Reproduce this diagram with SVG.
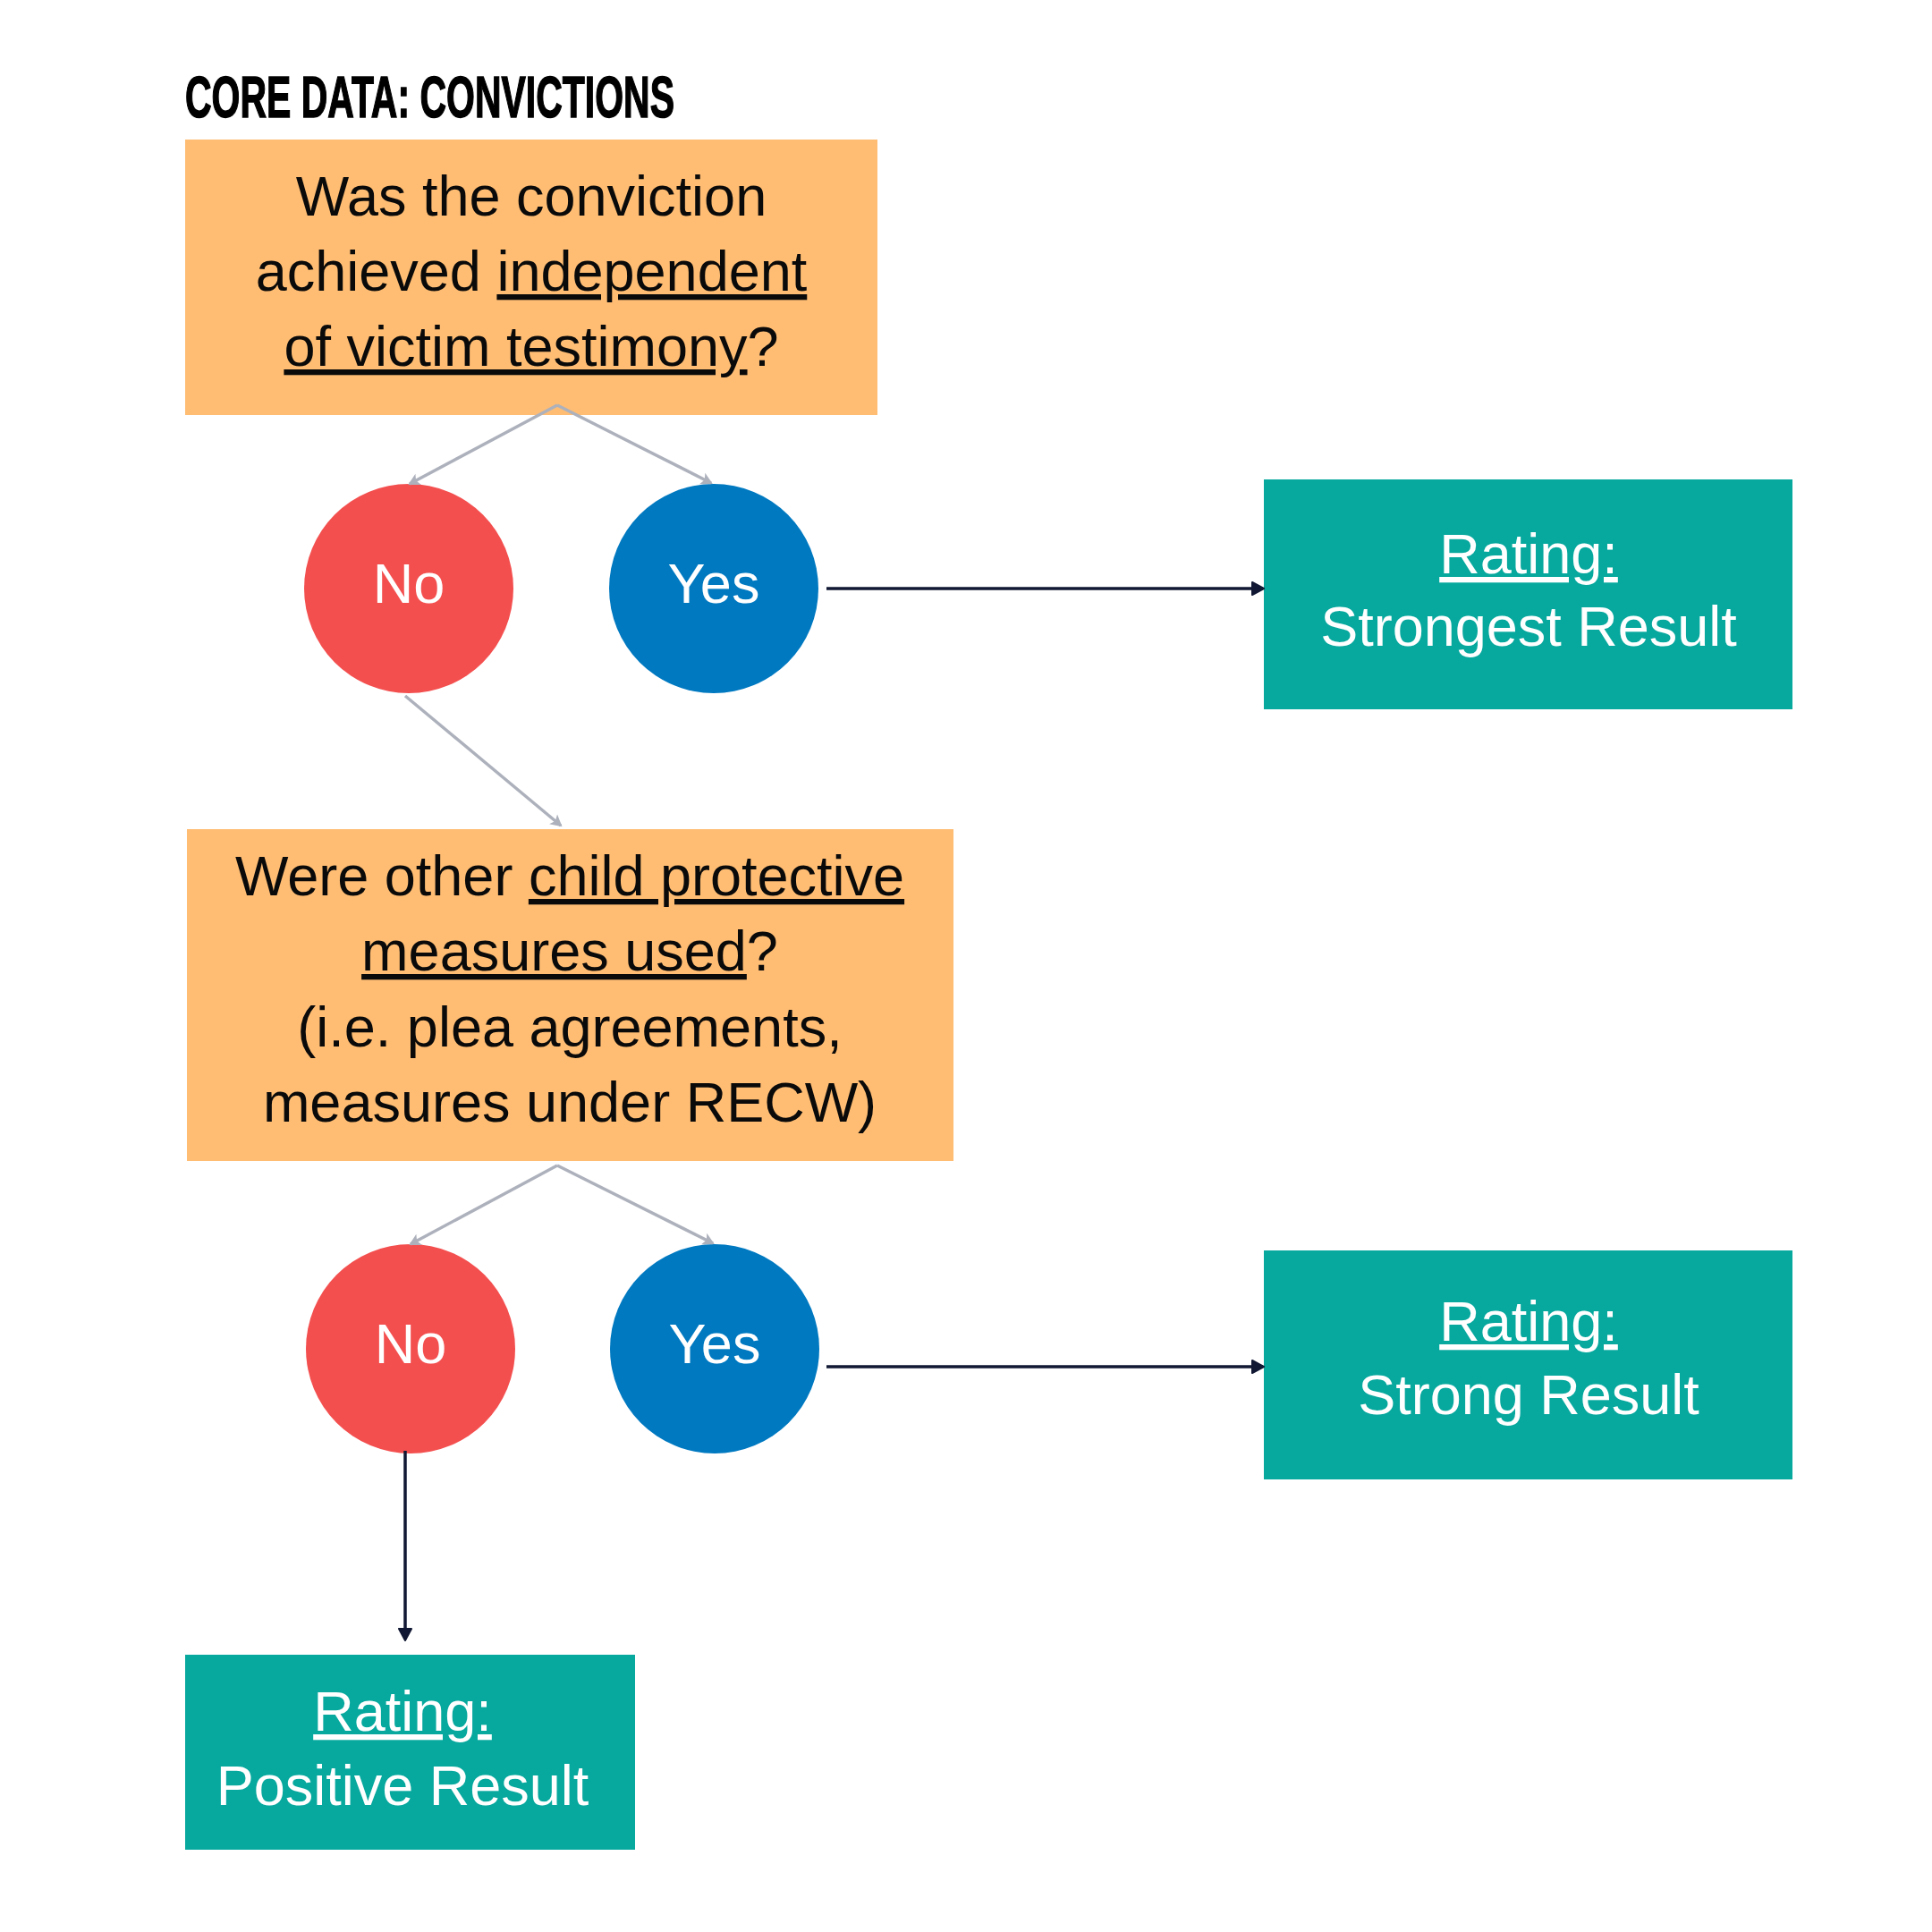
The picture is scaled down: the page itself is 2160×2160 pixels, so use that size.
<svg xmlns="http://www.w3.org/2000/svg" width="2160" height="2160" viewBox="0 0 2160 2160">
<style>
.q{fill:#FFBD73}
.r{fill:#07A89E}
.no{fill:#F44F4F}
.yes{fill:#0079C1}
.t{font-family:"Liberation Sans",Arial,sans-serif;font-size:63px;text-anchor:middle}
.dk{fill:#0A0A0A}
.wt{fill:#FFFFFF}
.u{text-decoration:underline}
.g{stroke:#ADB1BC;stroke-width:3.5;fill:none}
.d{stroke:#111833;stroke-width:3.5;fill:none}
</style>
<defs>
<marker id="ag" markerWidth="18" markerHeight="18" refX="13" refY="9" orient="auto" markerUnits="userSpaceOnUse">
<path d="M2,2 L15,9 L2,16 L5,9 Z" fill="#ADB1BC"/>
</marker>
<marker id="ad" markerWidth="18" markerHeight="18" refX="14" refY="9" orient="auto" markerUnits="userSpaceOnUse">
<path d="M2,2 L15,9 L2,16 Z" fill="#111833" stroke="#111833" stroke-width="2" stroke-linejoin="round"/>
</marker>
</defs>
<rect width="2160" height="2160" fill="#FFFFFF"/>
<text id="title" x="207" y="131" font-family="'Liberation Sans',Arial,sans-serif" font-weight="bold" font-size="65" textLength="547" lengthAdjust="spacingAndGlyphs" fill="#000000" stroke="#000000" stroke-width="1.5">CORE DATA: CONVICTIONS</text>

<g id="q1">
<rect class="q" x="207" y="156" width="774" height="308"/>
<text class="t dk" x="594" y="241">Was the conviction</text>
<text class="t dk" x="594" y="325">achieved <tspan class="u">independent</tspan></text>
<text class="t dk" x="594" y="409"><tspan class="u">of victim testimony</tspan>?</text>
</g>

<g id="no1">
<circle class="no" cx="457" cy="658" r="117"/>
<text class="t wt" x="457" y="674">No</text>
</g>

<g id="yes1">
<circle class="yes" cx="798" cy="658" r="117"/>
<text class="t wt" x="798" y="674">Yes</text>
</g>

<g id="r1">
<rect class="r" x="1413" y="536" width="591" height="257"/>
<text class="t wt" x="1709" y="641"><tspan class="u">Rating:</tspan></text>
<text class="t wt" x="1709" y="722">Strongest Result</text>
</g>

<g id="q2">
<rect class="q" x="209" y="927" width="857" height="371"/>
<text class="t dk" x="637" y="1001">Were other <tspan class="u">child protective</tspan></text>
<text class="t dk" x="637" y="1085"><tspan class="u">measures used</tspan>?</text>
<text class="t dk" x="637" y="1170">(i.e. plea agreements,</text>
<text class="t dk" x="637" y="1254">measures under RECW)</text>
</g>

<g id="no2">
<circle class="no" cx="459" cy="1508" r="117"/>
<text class="t wt" x="459" y="1524">No</text>
</g>

<g id="yes2">
<circle class="yes" cx="799" cy="1508" r="117"/>
<text class="t wt" x="799" y="1524">Yes</text>
</g>

<g id="r2">
<rect class="r" x="1413" y="1398" width="591" height="256"/>
<text class="t wt" x="1709" y="1499"><tspan class="u">Rating:</tspan></text>
<text class="t wt" x="1709" y="1581">Strong Result</text>
</g>

<g id="r3">
<rect class="r" x="207" y="1850" width="503" height="218"/>
<text class="t wt" x="450" y="1935"><tspan class="u">Rating:</tspan></text>
<text class="t wt" x="450" y="2018">Positive Result</text>
</g>

<g id="connectors">
<path class="g" d="M623,453 L458,541" marker-end="url(#ag)"/>
<path class="g" d="M623,453 L795,540" marker-end="url(#ag)"/>
<path class="d" d="M924,658 L1412,658" marker-end="url(#ad)"/>
<path class="g" d="M453,778 L627,923" marker-end="url(#ag)"/>
<path class="g" d="M623,1303 L459,1391" marker-end="url(#ag)"/>
<path class="g" d="M623,1303 L797,1390" marker-end="url(#ag)"/>
<path class="d" d="M924,1528 L1412,1528" marker-end="url(#ad)"/>
<path class="d" d="M453,1622 L453,1833" marker-end="url(#ad)"/>
</g>
</svg>
